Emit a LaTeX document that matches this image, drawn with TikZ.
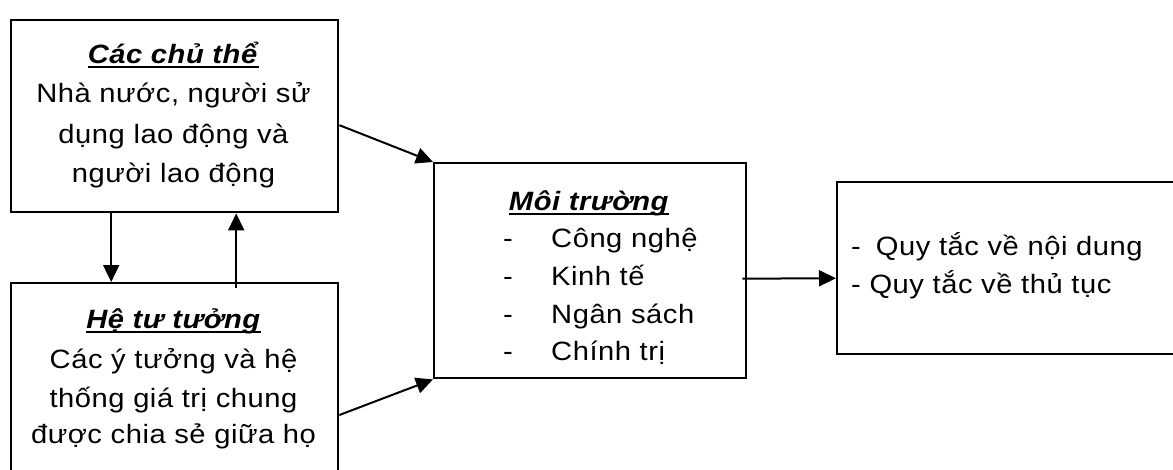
\documentclass[tikz,border=0pt]{standalone}
\usepackage{fontspec}
\setmainfont{Liberation Sans}[FakeStretch=1.1,LetterSpace=2]
\usetikzlibrary{arrows.meta,calc}
\newcommand\myul[1]{\setbox0\hbox{#1}\rlap{\rule[-5pt]{\wd0}{2.2pt}}\box0}
\begin{document}
\begin{tikzpicture}[x=1pt,y=-1pt,
  box/.style={draw, line width=2.4pt, inner sep=0pt, anchor=north west},
  txt/.style={anchor=base, inner sep=0pt, font=\fontsize{26.5}{40}\selectfont},
  ltxt/.style={anchor=base west, inner sep=0pt, font=\fontsize{26.5}{40}\selectfont},
  arr/.style={line width=2pt, -{Triangle[length=17pt,width=16pt]}}]
\useasboundingbox (0,0) rectangle (1173,469);
% boxes
\node[box, minimum width=327pt, minimum height=192pt] (b1) at (10,19) {};
\node[box, minimum width=327pt, minimum height=220pt] (b2) at (10,282) {};
\node[box, minimum width=312pt, minimum height=215pt] (b3) at (433,162) {};
\node[box, minimum width=360pt, minimum height=172pt] (b4) at (836,181) {};
% box 1 text
\node[txt] (t11) at (173.5,63) {\myul{\textbf{\textit{Các chủ thể}}}};
\node[txt] (t12) at (173.5,102) {Nhà nước, người sử};
\node[txt] (t13) at (173.5,143) {dụng lao động và};
\node[txt] (t14) at (173.5,182) {người lao động};
% box 2 text
\node[txt] (t21) at (173.5,328) {\myul{\textbf{\textit{Hệ tư tưởng}}}};
\node[txt] (t22) at (173.5,368) {Các ý tưởng và hệ};
\node[txt] (t23) at (173.5,407) {thống giá trị chung};
\node[txt] (t24) at (173.5,443) {được chia sẻ giữa họ};
% box 3 text
\node[txt] (t31) at (589,210) {\myul{\textbf{\textit{Môi trường}}}};
\node[ltxt] (d1) at (503,247) {-};
\node[ltxt] (d2) at (503,285) {-};
\node[ltxt] (d3) at (503,323) {-};
\node[ltxt] (d4) at (503,360) {-};
\node[ltxt] (t32) at (551,247) {Công nghệ};
\node[ltxt] (t33) at (551,285) {Kinh tế};
\node[ltxt] (t34) at (551,323) {Ngân sách};
\node[ltxt] (t35) at (551,360) {Chính trị};
% box 4 text
\node[ltxt] (t41) at (851,255) {-\hspace{15pt}Quy tắc về nội dung};
\node[ltxt] (t42) at (851,293) {- Quy tắc về thủ tục};
% connectors
\draw[arr] ([xshift=-63.5pt]b1.south) -- ([xshift=-63.5pt]b2.north);
\draw[arr] ([xshift=61.5pt,yshift=-6pt]b2.north) -- ([xshift=61.5pt]b1.south);
\draw[arr] ([yshift=-9pt]b1.east) -- (b3.north west);
\draw[arr] ($(b2.north east)+(0,133)$) -- (b3.south west);
\draw[arr] ([xshift=-5pt,yshift=-8pt]b3.east) -- ([yshift=-10pt]b4.west);
\end{tikzpicture}
\end{document}
